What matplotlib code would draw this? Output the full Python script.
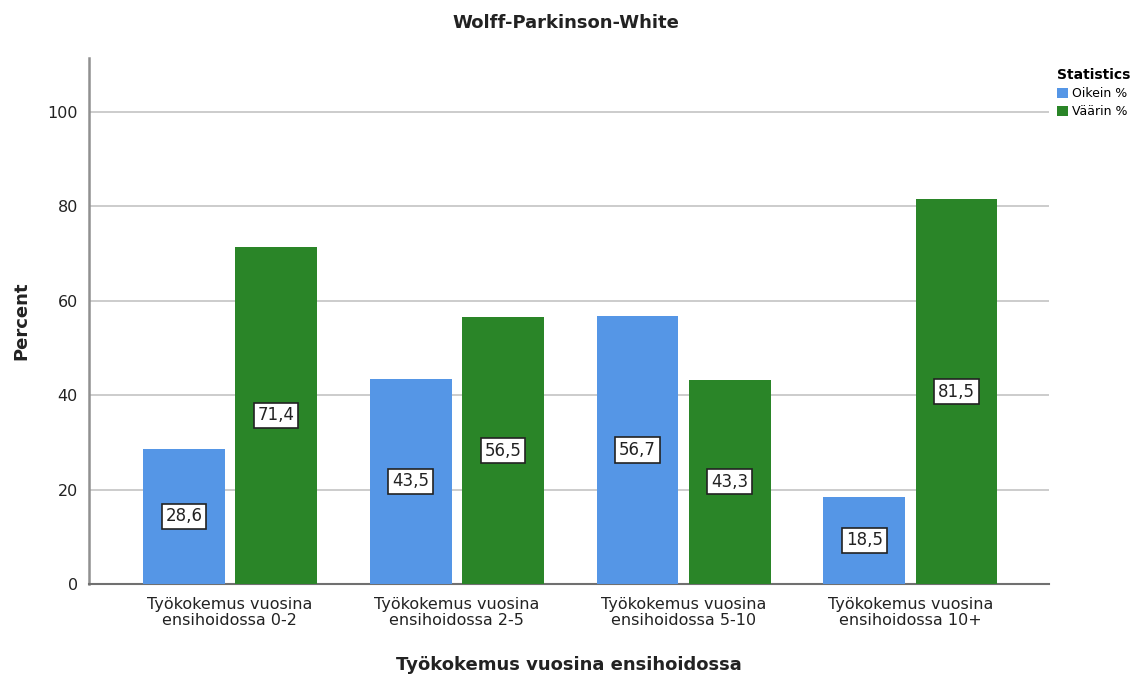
import matplotlib
matplotlib.use("Agg")
import matplotlib.pyplot as plt
import numpy as np

plt.rcParams['font.family'] = ['DejaVu Sans']

categories = ["Työkokemus vuosina\nensihoidossa 0-2",
              "Työkokemus vuosina\nensihoidossa 2-5",
              "Työkokemus vuosina\nensihoidossa 5-10",
              "Työkokemus vuosina\nensihoidossa 10+"]
oikein = [28.6, 43.5, 56.7, 18.5]
vaarin = [71.4, 56.5, 43.3, 81.5]
series_names = ["Oikein %", "Väärin %"]
yticks = [0, 20, 40, 60, 80, 100]

blue = "#5596e6"
green = "#2a8528"
ink = "#222222"

fig = plt.figure(figsize=(11.39, 6.79), dpi=100)
ax = fig.add_axes([0.0781, 0.1399, 0.8431, 0.7747])

x = np.arange(len(categories))
w = 0.361
off = 0.203
b1 = ax.bar(x - off, oikein, width=w, color=blue, label=series_names[0], zorder=3)
b2 = ax.bar(x + off, vaarin, width=w, color=green, label=series_names[1], zorder=3)

def fmt(v):
    return f"{v:.1f}".replace(".", ",")

for bars, vals in ((b1, oikein), (b2, vaarin)):
    for rect, v in zip(bars, vals):
        ax.text(rect.get_x() + rect.get_width() / 2, v / 2, fmt(v),
                ha="center", va="center", fontsize=12, color=ink, zorder=5,
                bbox=dict(boxstyle="square,pad=0.22", fc="white", ec=ink, lw=1.2))

ax.set_xlim(-0.621, 3.612)
ax.set_ylim(0, 111.4)
ax.set_yticks(yticks)
ax.set_xticks(x)
ax.set_xticklabels(categories, fontsize=11.5, color=ink, linespacing=1.15)
ax.tick_params(axis="y", labelsize=11.5, colors=ink, length=0, pad=8)
ax.tick_params(axis="x", length=0, pad=9)
ax.yaxis.grid(True, color="#c8c8c8", lw=1.3, zorder=0)
ax.set_axisbelow(True)

for s in ("top", "right"):
    ax.spines[s].set_visible(False)
ax.spines["left"].set_color("#909090")
ax.spines["left"].set_linewidth(1.8)
ax.spines["bottom"].set_color("#707070")
ax.spines["bottom"].set_linewidth(1.5)

ax.set_ylabel("Percent", fontsize=13, fontweight="bold", color=ink, labelpad=12)
ax.set_xlabel("Työkokemus vuosina ensihoidossa", fontsize=13, fontweight="bold",
              color=ink, labelpad=20)
fig.suptitle("Wolff-Parkinson-White", fontsize=13, fontweight="bold", color=ink,
             x=0.497, y=0.98)

leg = ax.legend(title="Statistics", loc="upper left", bbox_to_anchor=(1.003, 0.99),
                frameon=False, fontsize=9, title_fontsize=10, handlelength=0.9,
                handleheight=0.9, handletextpad=0.3, borderaxespad=0, labelspacing=0.4)
leg.get_title().set_fontweight("bold")
leg._legend_box.align = "left"

fig.savefig("out.png", dpi=100)
